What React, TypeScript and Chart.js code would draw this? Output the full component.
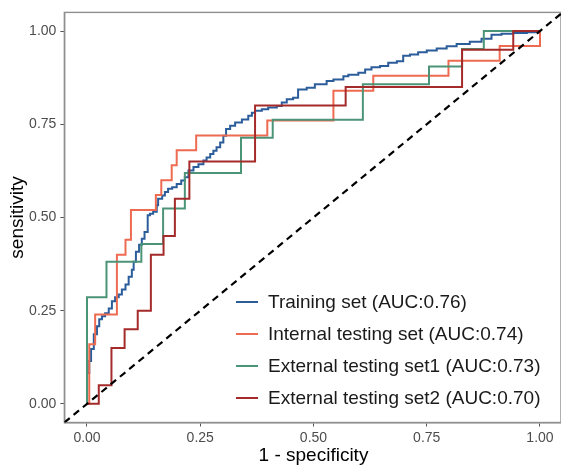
import React, { useEffect, useRef } from "react";
import { Chart, registerables } from "chart.js";

Chart.register(...registerables);

// ---------- data ----------
const seriesLabels = [
  "Training set (AUC:0.76)",
  "Internal testing set (AUC:0.74)",
  "External testing set1 (AUC:0.73)",
  "External testing set2 (AUC:0.70)",
];

const trainingFpr = [
  0, 0, 0.005, 0.009, 0.015, 0.022, 0.027, 0.033, 0.04, 0.048,
  0.055, 0.062, 0.07, 0.077, 0.085, 0.092, 0.099, 0.103, 0.108, 0.115,
  0.121, 0.127, 0.134, 0.139, 0.146, 0.154, 0.157, 0.166, 0.172, 0.179,
  0.188, 0.198, 0.208, 0.216, 0.224, 0.235, 0.246, 0.257, 0.264, 0.272,
  0.279, 0.286, 0.294, 0.301, 0.307, 0.316, 0.327, 0.342, 0.356, 0.364,
  0.371, 0.386, 0.4, 0.419, 0.43, 0.441, 0.455, 0.466, 0.485, 0.503,
  0.529, 0.544, 0.566, 0.577, 0.599, 0.614, 0.628, 0.647, 0.665, 0.684,
  0.698, 0.713, 0.731, 0.75, 0.772, 0.794, 0.816, 0.845, 0.871, 0.893,
  0.915, 0.941, 0.971, 0.996, 1,
];
const trainingTpr = [
  0, 0.083, 0.115, 0.147, 0.187, 0.208, 0.227, 0.235, 0.243, 0.256,
  0.275, 0.286, 0.293, 0.307, 0.32, 0.341, 0.36, 0.381, 0.408, 0.427,
  0.443, 0.461, 0.506, 0.51, 0.515, 0.533, 0.55, 0.559, 0.568, 0.577,
  0.581, 0.59, 0.599, 0.608, 0.626, 0.635, 0.643, 0.653, 0.661, 0.67,
  0.679, 0.688, 0.701, 0.719, 0.737, 0.746, 0.755, 0.763, 0.773, 0.781,
  0.786, 0.79, 0.795, 0.799, 0.808, 0.817, 0.821, 0.843, 0.848, 0.857,
  0.866, 0.87, 0.879, 0.883, 0.888, 0.897, 0.903, 0.906, 0.915, 0.919,
  0.934, 0.937, 0.943, 0.948, 0.953, 0.959, 0.965, 0.971, 0.979, 0.99,
  0.993, 0.995, 0.997, 1, 1,
];

const internalFpr = [0, 0.005, 0.018, 0.066, 0.085, 0.097, 0.152, 0.164, 0.187, 0.198, 0.241, 0.398, 0.544, 0.632, 0.798, 0.911, 1];
const internalTpr = [0, 0.16, 0.24, 0.4, 0.44, 0.52, 0.56, 0.6, 0.64, 0.68, 0.72, 0.76, 0.84, 0.88, 0.92, 0.96, 1];

const external1Fpr = [0, 0, 0.043, 0.12, 0.168, 0.216, 0.34, 0.41, 0.609, 0.755, 0.828, 0.876, 1];
const external1Tpr = [0, 0.286, 0.381, 0.429, 0.524, 0.619, 0.714, 0.762, 0.857, 0.905, 0.952, 1, 1];

const external2Fpr = [0, 0.026, 0.054, 0.083, 0.112, 0.141, 0.169, 0.194, 0.226, 0.371, 0.571, 0.828, 0.941, 1];
const external2Tpr = [0, 0.05, 0.15, 0.2, 0.25, 0.4, 0.45, 0.55, 0.65, 0.8, 0.85, 0.95, 1, 1];

const diagonal = [-0.05, 1.05];
const tickValues = [0, 0.25, 0.5, 0.75, 1];
const tickLabels = ["0.00", "0.25", "0.50", "0.75", "1.00"];
const xTitle = "1 - specificity";
const yTitle = "sensitivity";

// ---------- styles ----------
const colors = ["#2C5D9B", "#EE6A50", "#4C9478", "#A52A2A"];
const FONT = "'Liberation Sans', Arial, Helvetica, sans-serif";

const toPoints = (xs: number[], ys: number[]) => xs.map((x, i) => ({ x, y: ys[i] }));

const framePlugin = {
  id: "frameAndText",
  beforeDatasetsDraw(chart: any) {
    const { ctx, chartArea } = chart;
    ctx.save();
    ctx.strokeStyle = "#8f8f8f";
    ctx.lineWidth = 1.4;
    ctx.strokeRect(chartArea.left, chartArea.top, chartArea.right - chartArea.left, chartArea.bottom - chartArea.top);
    ctx.restore();
  },
  afterDraw(chart: any) {
    const { ctx, chartArea } = chart;
    ctx.save();
    ctx.fillStyle = "#000";
    ctx.font = `19px ${FONT}`;
    ctx.textAlign = "center";
    ctx.textBaseline = "middle";
    ctx.fillText(xTitle, (chartArea.left + 562.6) / 2, 456);
    ctx.translate(18, (chartArea.top + chartArea.bottom) / 2);
    ctx.rotate(-Math.PI / 2);
    ctx.fillText(yTitle, 0, 0);
    ctx.restore();

    ctx.save();
    const rowStart = 302;
    const rowGap = 32;
    ctx.font = `19px ${FONT}`;
    ctx.textAlign = "left";
    ctx.textBaseline = "middle";
    const curves = chart.data.datasets.filter((d: any) => d.isCurve);
    curves.forEach((d: any, i: number) => {
      const y = rowStart + i * rowGap;
      ctx.strokeStyle = d.borderColor;
      ctx.lineWidth = 2;
      ctx.beginPath();
      ctx.moveTo(236, y);
      ctx.lineTo(258, y);
      ctx.stroke();
      ctx.fillStyle = "#1a1a1a";
      ctx.fillText(d.label, 268, y + 1);
    });
    ctx.restore();
  },
};

export default function App() {
  const ref = useRef<HTMLCanvasElement>(null);

  useEffect(() => {
    document.body.style.margin = "0";
    const canvas = ref.current!;
    const curveSets = [
      [trainingFpr, trainingTpr],
      [internalFpr, internalTpr],
      [external1Fpr, external1Tpr],
      [external2Fpr, external2Tpr],
    ];
    const datasets: any[] = curveSets.map(([xs, ys], i) => ({
      label: seriesLabels[i],
      isCurve: true,
      data: toPoints(xs, ys),
      borderColor: colors[i],
      backgroundColor: colors[i],
      borderWidth: 2,
      pointRadius: 0,
      showLine: true,
      stepped: "before",
      fill: false,
      order: 4 - i,
    }));
    datasets.push({
      label: "diagonal",
      isCurve: false,
      data: toPoints(diagonal, diagonal),
      borderColor: "#000",
      borderWidth: 2.2,
      borderDash: [7, 5],
      pointRadius: 0,
      showLine: true,
      fill: false,
      order: 0,
    });

    const chart = new Chart(canvas, {
      type: "scatter",
      data: { datasets },
      plugins: [framePlugin],
      options: {
        animation: false,
        responsive: false,
        devicePixelRatio: 1,
        layout: { padding: { top: 8.7, right: 0, left: 0, bottom: 0 } },
        plugins: { legend: { display: false }, tooltip: { enabled: false } },
        scales: {
          x: {
            type: "linear",
            min: -0.05,
            max: 1.0464,
            afterFit: (s: any) => { s.height = 469 - 422.5; },
            afterBuildTicks: (s: any) => { s.ticks = tickValues.map((v) => ({ value: v })); },
            grid: { display: true, drawOnChartArea: false, drawTicks: true, tickLength: 4, color: "#555" },
            border: { display: true, color: "#8f8f8f", width: 1.4 },
            ticks: {
              callback: (_v: any, i: number) => tickLabels[i],
              color: "#4D4D4D",
              font: { family: FONT, size: 14 },
              padding: 3,
              maxRotation: 0,
            },
          },
          y: {
            type: "linear",
            min: -0.05,
            max: 1.05,
            afterFit: (s: any) => { s.width = 64.35; },
            afterBuildTicks: (s: any) => { s.ticks = tickValues.map((v) => ({ value: v })); },
            grid: { display: true, drawOnChartArea: false, drawTicks: true, tickLength: 4, color: "#555" },
            border: { display: true, color: "#8f8f8f", width: 1.4 },
            ticks: {
              callback: (_v: any, i: number) => tickLabels[i],
              color: "#4D4D4D",
              font: { family: FONT, size: 14 },
              padding: 4,
            },
          },
        },
      } as any,
    });
    return () => chart.destroy();
  }, []);

  return (
    <div style={{ position: "absolute", left: 0, top: 0, width: 561, height: 469, background: "#fff" }}>
      <canvas ref={ref} width={561} height={469} style={{ display: "block", width: 561, height: 469 }} />
    </div>
  );
}
